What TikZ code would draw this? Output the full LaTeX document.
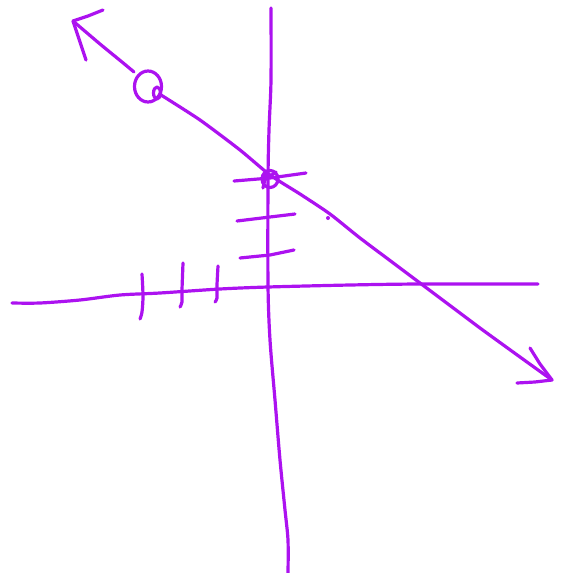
\documentclass[tikz,border=0pt]{standalone}
\definecolor{pen}{RGB}{172,18,240}
\begin{document}
\begin{tikzpicture}[x=1pt,y=-1pt,
  ink/.style={draw=pen,line width=3.2pt,line cap=round,line join=round}]
\useasboundingbox (0,0) rectangle (564,573);
% vertical axis
\draw[ink] plot[smooth,tension=0.5] coordinates {(271,8) (271,80) (269,130) (268,180) (268,285) (270,340) (275,400) (280,460) (285,510) (288,540) (288,573)};
% horizontal axis
\draw[ink] plot[smooth,tension=0.5] coordinates {(12,303) (40,303) (80,300) (120,295) (160,293) (220,289) (268,287) (350,285) (420,284) (538,284)};
% diagonal line
\draw[ink] plot[smooth,tension=0.4] coordinates {(73,21) (100,44) (122,62) (134,72)};
\draw[ink] plot[smooth,tension=0.4] coordinates {(161,95) (200,120) (240,150) (270,175) (300,194) (330,214) (360,238) (400,268) (440,298) (480,328) (520,357) (552,380)};
% arrow heads
\draw[ink] (103,10) -- (88,16) -- (73,21) -- (80,42) -- (86,60);
\draw[ink] (530,348) -- (540,364) -- (552,380) -- (535,382) -- (517,383);
% loop on the line
\draw[ink] (148,86.5) ellipse [x radius=13.5pt, y radius=15.5pt];
\draw[ink] (157,93) ellipse [x radius=3.5pt, y radius=6pt];
% point at origin of ticks
\draw[ink] (270,179) ellipse [x radius=8pt, y radius=8.5pt];
\draw[ink] (266,174) -- (263,188);
\draw[ink] (263,181) -- (276,172);
% y-axis ticks
\draw[ink] (234,181) -- (270,178) -- (306,173);
\draw[ink] (237,221) -- (270,217) -- (295,214);
\draw[ink] (240,258) -- (270,255) -- (294,250);
% x-axis ticks
\draw[ink] plot[smooth,tension=0.5] coordinates {(142,274) (143,296) (142,312) (140,319)};
\draw[ink] plot[smooth,tension=0.5] coordinates {(183,263) (182,290) (182,302) (180,307)};
\draw[ink] plot[smooth,tension=0.5] coordinates {(218,266) (217,285) (217,298) (215,302)};
% tiny mark
\fill[pen] (328,218) circle (2pt);
\end{tikzpicture}
\end{document}
